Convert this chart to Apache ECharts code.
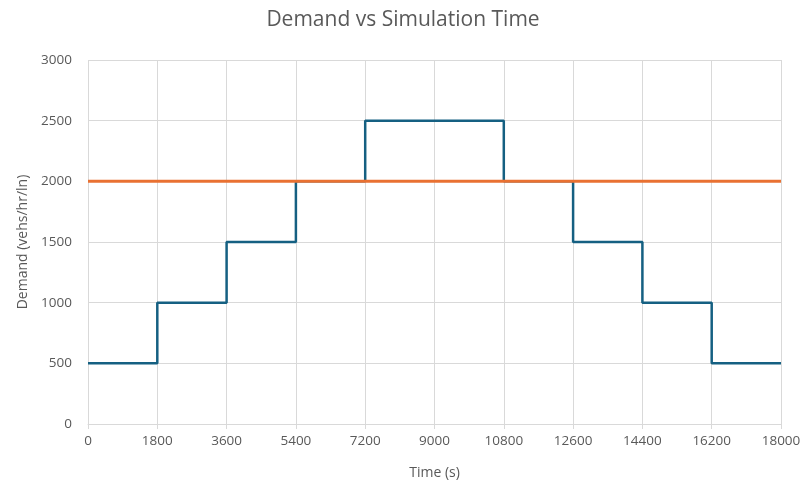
<!DOCTYPE html>
<html>
<head>
<meta charset="utf-8">
<script src="https://cdn.jsdelivr.net/npm/echarts@6/dist/echarts.min.js"></script>
<style>
  html, body { margin: 0; padding: 0; background: #fff; }
  #chart { width: 806px; height: 485px; }
</style>
</head>
<body>
<div id="chart"></div>
<script>
// step change times (s) and demand at each (vehs/hr/ln)
const times = [0, 1800, 3600, 5400, 7200, 9000, 10800, 12600, 14400, 16200, 18000];
const demand = [500, 1000, 1500, 2000, 2500, 2500, 2000, 1500, 1000, 500, 500];
const capacityTimes = [0, 18000];
const capacity = [2000, 2000];

const chart = echarts.init(document.getElementById('chart'));
const font = '"Open Sans", "Noto Sans", sans-serif';

const option = {
  animation: false,
  title: {
    text: 'Demand vs Simulation Time',
    left: 'center',
    top: 5,
    textStyle: { fontFamily: font, fontSize: 21, fontWeight: 'normal', color: '#595959' }
  },
  grid: { left: 88, right: 25, top: 60, bottom: 61 },
  xAxis: {
    type: 'value',
    min: 0,
    max: 18000,
    interval: 1800,
    name: 'Time (s)',
    nameLocation: 'middle',
    nameGap: 42,
    nameTextStyle: { fontFamily: font, fontSize: 14, color: '#595959' },
    axisLine: { show: true, lineStyle: { color: '#d9d9d9', width: 1 } },
    axisTick: { show: true, length: 5, lineStyle: { color: '#d9d9d9' } },
    axisLabel: { fontFamily: font, fontSize: 13.5, color: '#595959', margin: 10, formatter: v => String(v) },
    splitLine: { show: true, lineStyle: { color: '#d9d9d9', width: 1 } }
  },
  yAxis: {
    type: 'value',
    min: 0,
    max: 3000,
    interval: 500,
    name: 'Demand (vehs/hr/ln)',
    nameLocation: 'middle',
    nameGap: 58,
    nameTextStyle: { fontFamily: font, fontSize: 14, color: '#595959' },
    axisLine: { show: false },
    axisTick: { show: false },
    axisLabel: { fontFamily: font, fontSize: 13.5, color: '#595959', margin: 16, formatter: v => String(v) },
    splitLine: { show: true, lineStyle: { color: '#d9d9d9', width: 1 } }
  },
  series: [
    {
      name: 'Demand',
      type: 'line',
      step: 'end',
      data: times.map((t, i) => [t, demand[i]]),
      symbol: 'none',
      lineStyle: { color: '#156082', width: 2.5 },
      z: 2
    },
    {
      name: 'Capacity',
      type: 'line',
      data: capacityTimes.map((t, i) => [t, capacity[i]]),
      symbol: 'none',
      lineStyle: { color: '#E97132', width: 3 },
      z: 3
    }
  ]
};

chart.setOption(option);
</script>
</body>
</html>
